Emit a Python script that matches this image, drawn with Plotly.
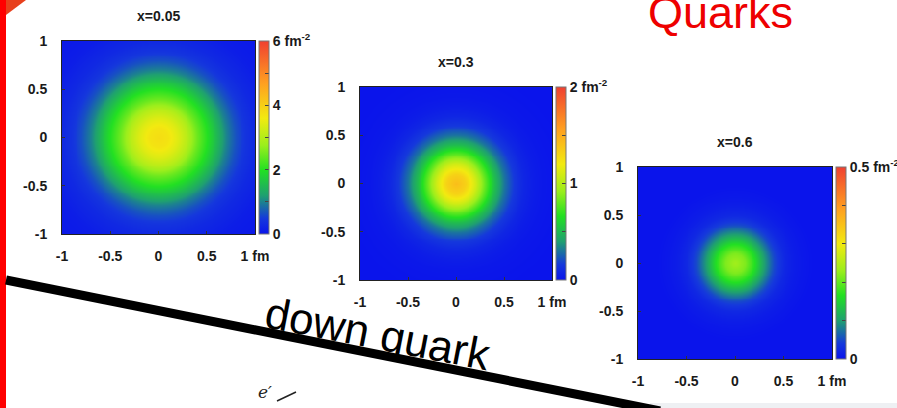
import numpy as np
import plotly.graph_objects as go

W, H = 897, 408

# ---- data: radial profiles (density in fm^-2 vs radius in fm)
radius = [0.0, 0.1, 0.2, 0.3, 0.4, 0.5, 0.6, 0.7, 0.8, 0.9, 1.0, 1.2, 1.5]
profile_x005 = [3.8, 3.7, 3.4, 3.0, 2.45, 2.0, 1.5, 1.0, 0.65, 0.42, 0.28, 0.12, 0.04]
profile_x03 = [1.42, 1.32, 1.1, 0.8, 0.52, 0.3, 0.16, 0.08, 0.04, 0.02, 0.01, 0.0, 0.0]
profile_x06 = [0.235, 0.215, 0.165, 0.1, 0.05, 0.022, 0.01, 0.004, 0.0, 0.0, 0.0, 0.0, 0.0]

titles = ["x=0.05", "x=0.3", "x=0.6"]
zmax = [6, 2, 0.5]
cb_vals = [[0, 1, 2, 3, 4, 5, 6], [0, 0.5, 1, 1.5, 2], [0, 0.1, 0.2, 0.3, 0.4, 0.5]]
cb_text = [["0", "", "2", "", "4", "", "6 fm<sup>-2</sup>"],
           ["0", "", "1", "", "2 fm<sup>-2</sup>"],
           ["0", "", "", "", "", "0.5 fm<sup>-2</sup>"]]
ax_vals = [-1, -0.5, 0, 0.5, 1]
x_text = ["-1", "-0.5", "0", "0.5", "1 fm"]
y_text = ["-1", "-0.5", "0", "0.5", "1"]

# layout boxes in pixels: (left, right, top, bottom)
boxes = [(62, 255, 41, 234), (360, 552, 87, 280), (638, 832, 167, 359)]

colorscale = [[0.0, "#0a14eb"], [0.08, "#1538dc"], [0.2, "#1fa070"], [0.33, "#22e022"],
              [0.46, "#9bee1c"], [0.6, "#f2ea10"], [0.78, "#ffa020"], [1.0, "#f04030"]]

g = np.linspace(-1, 1, 101)
XX, YY = np.meshgrid(g, g)
RR = np.sqrt(XX ** 2 + YY ** 2)

profiles = [profile_x005, profile_x03, profile_x06]

def px(x):
    return x / W

def py(y):
    return 1 - y / H

fig = go.Figure()
font_t = dict(family="Liberation Sans, Arial", size=14, color="#1a1a1a", weight="bold")

for i, (prof, box) in enumerate(zip(profiles, boxes)):
    l, r, t, b = box
    z = np.interp(RR, radius, prof)
    xa = "x" if i == 0 else f"x{i+1}"
    ya = "y" if i == 0 else f"y{i+1}"
    fig.add_trace(go.Heatmap(
        x=g, y=g, z=z, xaxis=xa, yaxis=ya, zmin=0, zmax=zmax[i],
        colorscale=colorscale, zsmooth="best", hoverinfo="skip",
        colorbar=dict(x=px(r + 4), xanchor="left", xpad=0, ypad=0,
                      y=py((t + b) / 2), yanchor="middle",
                      len=b - t, lenmode="pixels", thickness=10, thicknessmode="pixels",
                      outlinewidth=1, outlinecolor="#777",
                      tickvals=cb_vals[i], ticktext=cb_text[i], ticks="inside",
                      ticklen=4, tickcolor="#444", tickfont=font_t),
    ))
    axkw = dict(range=[-1, 1], tickvals=ax_vals, ticks="inside", ticklen=3, tickcolor="#333",
                showline=True, mirror=True, linecolor="#222", linewidth=1,
                showgrid=False, zeroline=False, tickfont=font_t, fixedrange=True)
    fig.update_layout(**{
        ("xaxis" if i == 0 else f"xaxis{i+1}"): dict(domain=[px(l), px(r)], anchor=ya,
                                                        ticktext=x_text, ticklabelstandoff=9, **axkw),
        ("yaxis" if i == 0 else f"yaxis{i+1}"): dict(domain=[py(b), py(t)], anchor=xa,
                                                        ticktext=y_text, ticklabelstandoff=11, **axkw),
    })
    fig.add_annotation(text=titles[i], x=px((l + r) / 2), y=py(t - 25), xref="paper", yref="paper",
                       showarrow=False, font=font_t, xanchor="center", yanchor="middle")

shapes = [
    # light gray strip bottom right
    dict(type="rect", xref="paper", yref="paper", x0=px(650), x1=1, y0=0, y1=py(403),
         fillcolor="#eef0f3", line_width=0, layer="below"),
    # red left edge
    dict(type="rect", xref="paper", yref="paper", x0=0, x1=px(6), y0=0, y1=1,
         fillcolor="#ff0000", line_width=0),
    dict(type="path", xref="paper", yref="paper",
         path=f"M {px(6)} 1 L {px(26)} 1 L {px(6)} {py(15)} Z",
         fillcolor="#e8401c", line_width=0),
    # black diagonal line
    dict(type="line", xref="paper", yref="paper", x0=px(6), y0=py(280), x1=px(660), y1=py(411),
         line=dict(color="#000000", width=9)),
    # small slash next to e'
    dict(type="line", xref="paper", yref="paper", x0=px(277), y0=py(401), x1=px(296), y1=py(392),
         line=dict(color="#222", width=1.5)),
]
fig.update_layout(shapes=shapes)

fig.add_annotation(text="Quarks", x=px(720), y=py(12), xref="paper", yref="paper",
                   showarrow=False, xanchor="center", yanchor="middle",
                   font=dict(family="Liberation Sans, Arial", size=45, color="#ee0000"))
fig.add_annotation(text="down quark", x=px(378), y=py(333), xref="paper", yref="paper",
                   showarrow=False, xanchor="center", yanchor="middle", textangle=11,
                   font=dict(family="Liberation Sans, Arial", size=44, color="#000000"))
fig.add_annotation(text="<i>e′</i>", x=px(265), y=py(392), xref="paper", yref="paper",
                   showarrow=False, xanchor="center", yanchor="middle",
                   font=dict(family="DejaVu Serif, serif", size=17, color="#222"))
fig.add_annotation(text="<i>ℓ</i>", x=px(93), y=py(418), xref="paper", yref="paper",
                   showarrow=False, xanchor="center", yanchor="middle",
                   font=dict(family="DejaVu Serif, serif", size=20, color="#222"))

fig.update_layout(width=W, height=H, margin=dict(l=0, r=0, t=0, b=0, autoexpand=False),
                  paper_bgcolor="white", plot_bgcolor="white", showlegend=False)

fig.write_html("out.html", config={"displayModeBar": False})
